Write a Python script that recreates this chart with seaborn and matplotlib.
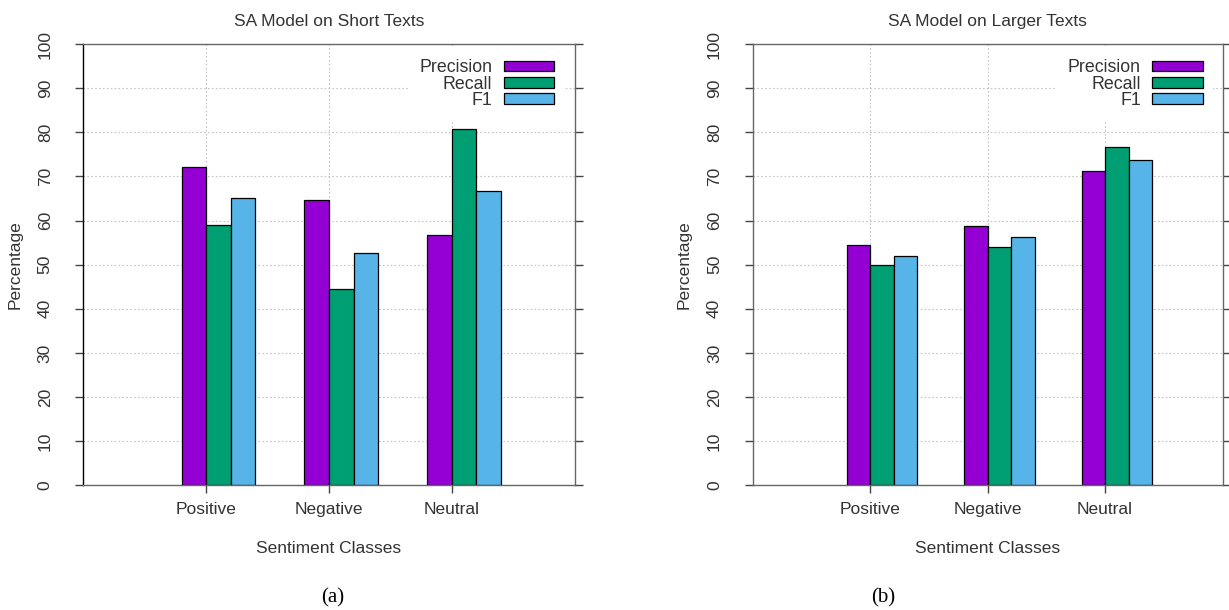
import matplotlib
matplotlib.use("Agg")
import matplotlib.pyplot as plt
import seaborn as sns
import pandas as pd

# values
classes = ["Positive", "Negative", "Neutral"]
metrics = ["Precision", "Recall", "F1"]

short_precision = [72.2, 64.6, 56.8]
short_recall = [59.0, 44.5, 80.7]
short_f1 = [65.0, 52.6, 66.6]

large_precision = [54.5, 58.8, 71.3]
large_recall = [50.0, 54.1, 76.6]
large_f1 = [52.0, 56.3, 73.7]

colors = ["#9400d3", "#009e73", "#56b4e9"]
txt = "#333333"


def make_frame(p, r, f):
    rows = []
    for i, c in enumerate(classes):
        rows.append([c, "Precision", p[i]])
        rows.append([c, "Recall", r[i]])
        rows.append([c, "F1", f[i]])
    return pd.DataFrame(rows, columns=["cls", "metric", "value"])


sns.set_style("white")
plt.rcParams["font.family"] = ["Liberation Sans", "DejaVu Sans"]
plt.rcParams["font.size"] = 12.5

fig = plt.figure(figsize=(12.29, 6.10), dpi=100)
ax1 = fig.add_axes([0.0678, 0.2044, 0.3998, 0.7234])
ax2 = fig.add_axes([0.6124, 0.2044, 0.3824, 0.7234])

panels = [
    (ax1, make_frame(short_precision, short_recall, short_f1), "SA Model on Short Texts"),
    (ax2, make_frame(large_precision, large_recall, large_f1), "SA Model on Larger Texts"),
]

for n, (ax, df, title) in enumerate(panels):
    sns.barplot(data=df, x="cls", y="value", hue="metric", hue_order=metrics,
                order=classes, palette=colors, width=0.6, ax=ax,
                edgecolor="black", linewidth=0.9, saturation=1, zorder=2)

    ax.set_ylim(0, 100)
    ax.set_yticks(range(0, 101, 10))
    ax.set_xlim(-1.1, 2.9)
    ax.set_xticks([-0.1, 0.9, 1.9], labels=classes)

    ax.grid(True, which="major", color="#c4c4c4", linestyle=(0, (1.5, 2)), linewidth=0.8, zorder=0)
    ax.xaxis.grid(True)
    ax.set_axisbelow(True)

    for s in ax.spines.values():
        s.set_visible(True)
        s.set_color("#666666")
        s.set_linewidth(1.0)
    if n == 0:
        ax.spines["left"].set_color("black")

    ax.tick_params(axis="y", which="major", direction="out", length=6, width=1,
                   color="#444444", left=True, right=True, labelrotation=90,
                   pad=16, labelcolor=txt, labelsize=12.5)
    ax.tick_params(axis="x", which="major", direction="out", length=6, width=1,
                   color="#444444", bottom=True, pad=6, labelcolor=txt, labelsize=12.5)
    for lab in ax.get_yticklabels():
        lab.set_va("center")

    ax.set_title(title, color=txt, fontsize=12.5, pad=13)
    ax.set_ylabel("Percentage", color=txt, fontsize=12.5, labelpad=11)
    ax.set_xlabel("Sentiment Classes", color=txt, fontsize=12.5, labelpad=17)

    leg = ax.legend(loc="upper right", bbox_to_anchor=(0.98, 0.99), borderaxespad=0,
                    markerfirst=False, frameon=True, fancybox=False,
                    facecolor="white", edgecolor="none", framealpha=1,
                    fontsize=12.8, handlelength=2.85, handleheight=0.54,
                    handletextpad=0.62, labelspacing=-0.03, borderpad=0.6)
    for t in leg.get_texts():
        t.set_color(txt)
    leg.set_zorder(5)

fig.text(333 / 1229, 1 - 598 / 610, "(a)", ha="center", va="center",
         family=["Liberation Serif", "DejaVu Serif"], fontsize=15, color="black")
fig.text(883 / 1229, 1 - 598 / 610, "(b)", ha="center", va="center",
         family=["Liberation Serif", "DejaVu Serif"], fontsize=15, color="black")

fig.savefig("out.png", dpi=100)
